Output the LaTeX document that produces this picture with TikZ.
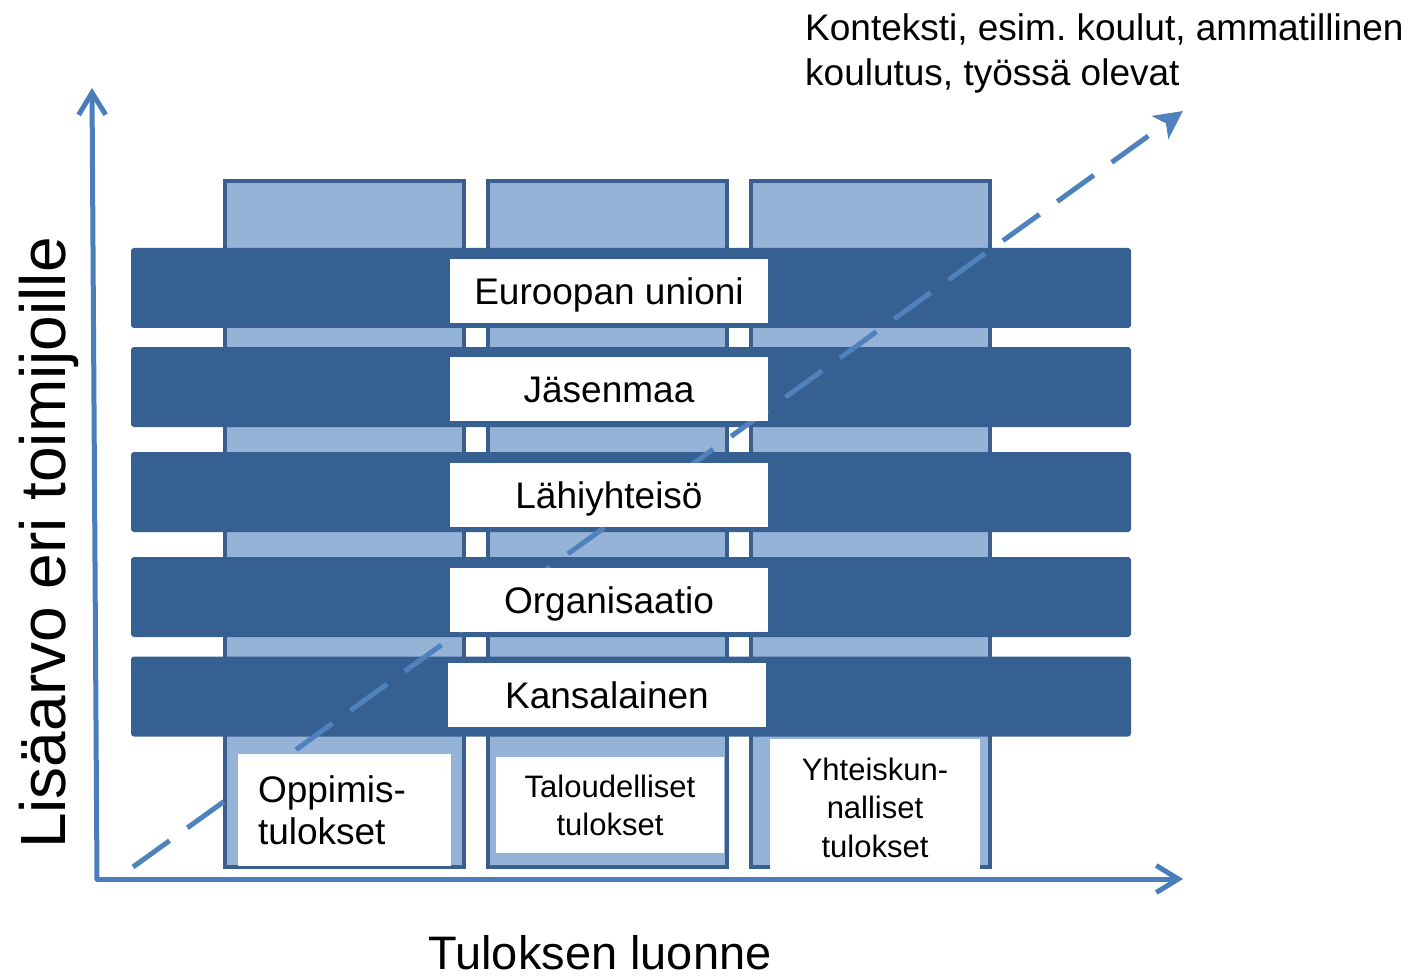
\documentclass[tikz,border=0pt]{standalone}
\usepackage{fontspec}
\setmainfont{Liberation Sans}
\usetikzlibrary{arrows.meta}
\definecolor{colfill}{HTML}{95B3D7}
\definecolor{coledge}{HTML}{3A5F8E}
\definecolor{bandfill}{HTML}{366092}
\definecolor{axisblue}{HTML}{4A7EBB}
\definecolor{dashblue}{HTML}{4F81BD}
\frenchspacing
\begin{document}
\begin{tikzpicture}[x=1pt,y=-1pt,
  col/.style={draw=coledge, fill=colfill, line width=4pt, minimum width=239pt, minimum height=686pt, inner sep=0pt, outer sep=0pt},
  band/.style={fill=bandfill, rounded corners=3pt, minimum width=1000pt, minimum height=80pt, inner sep=0pt, outer sep=0pt},
  lab/.style={fill=white, minimum width=318pt, minimum height=64pt, inner sep=0pt, outer sep=0pt, text height=27pt, text depth=0pt, font=\fontsize{37}{44}\selectfont},
  res/.style={fill=white, inner sep=0pt, outer sep=0pt},
  axisline/.style={draw=axisblue, line width=5pt, line cap=round, -{Straight Barb[length=22pt,width=27pt]}},
  dashline/.style={draw=dashblue, line width=5pt, dash pattern=on 45pt off 22pt, -{Stealth[length=28pt,width=28pt,inset=7pt]}},
]
\useasboundingbox (0,0) rectangle (1411,976);
% columns
\node[col] (c1) at (344.5,524) {};
\node[col] (c2) at (607.5,524) {};
\node[col] (c3) at (870.5,524) {};
% bands
\node[band] (b1) at (631,288) {};
\node[band] (b2) at (631,387) {};
\node[band] (b3) at (631,492) {};
\node[band] (b4) at (631,597) {};
\node[band] (b5) at (631,696.5) {};
% dashed context arrow
\coordinate (ds) at (133,867);
\coordinate (de) at (1183,111);
\draw[dashline] (ds) -- (de);
% labels in bands
\node[lab] (l1) at (609,291) {Euroopan unioni};
\node[lab] (l2) at (609,389) {Jäsenmaa};
\node[lab] (l3) at (609,495) {Lähiyhteisö};
\node[lab] (l4) at (609,600) {Organisaatio};
\node[lab] (l5) at (607,695) {Kansalainen};
% result boxes
\node[res, minimum width=213pt, minimum height=112pt, text width=173pt, align=left,
      font=\fontsize{37}{42}\selectfont] (r1) at (344.5,810) {Oppimis-\\tulokset};
\node[res, minimum width=228pt, minimum height=96pt, align=center,
      font=\fontsize{31}{38}\selectfont] (r2) at (610,805) {Taloudelliset\\tulokset};
\node[res, minimum width=210pt, minimum height=131pt] (r3) at (875,804.5) {};
\node[inner sep=0pt, align=center, font=\fontsize{31}{38.5}\selectfont] (r3t) at (875,807.5) {Yhteiskun-\\nalliset\\tulokset};
% axes
\coordinate (o) at (97,879);
\coordinate (ytip) at (92,88);
\coordinate (xtip) at (1183,879);
\draw[axisline] (o) -- (ytip);
\draw[axisline] (o) -- (xtip);
% axis titles
\node[rotate=90, anchor=base, inner sep=0pt, font=\fontsize{64}{70}\selectfont] (ylab) at (65,543) {Lisäarvo eri toimijoille};
\node[anchor=base, inner sep=0pt, font=\fontsize{47}{52}\selectfont] (xlab) at (600,969) {Tuloksen luonne};
\node[anchor=north west, inner sep=0pt, align=left, font=\fontsize{37}{45}\selectfont] (ctx) at (805,13) {Konteksti, esim. koulut, ammatillinen\\koulutus, työssä olevat};
\end{tikzpicture}
\end{document}
